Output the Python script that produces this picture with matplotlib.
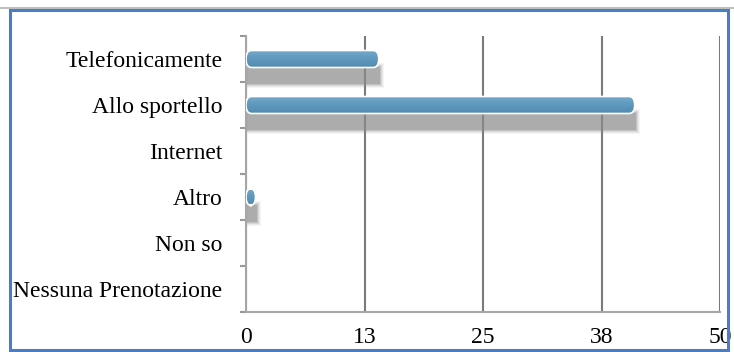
import numpy as np
import matplotlib.pyplot as plt
from matplotlib.colors import LinearSegmentedColormap
from matplotlib.patches import Rectangle, FancyBboxPatch

categorie = ['Telefonicamente', 'Allo sportello', 'Internet', 'Altro',
             'Non so', 'Nessuna Prenotazione']
risposte = [14, 41, 0, 1, 0, 0]
tick_pos = [0, 12.5, 25, 37.5, 50]
tick_lab = ['0', '13', '25', '38', '50']

plt.rcParams['font.family'] = ['Liberation Serif', 'DejaVu Serif']

fig = plt.figure(figsize=(7.34, 3.52), dpi=100)
ax = fig.add_axes([246 / 734, 1 - 312 / 352, 474 / 734, 276 / 352])

y = np.arange(len(categorie))
h = 0.37

# ombra sfumata sotto le barre
for yi, v in zip(y, risposte):
    if v <= 0:
        continue
    for k, a in enumerate([0.08, 0.12, 0.18, 0.28, 0.40]):
        grow = (4 - k) * 0.04
        ax.add_patch(Rectangle((0, yi + 0.17 - grow / 2), v + 0.15 + grow * 2.5, h + grow,
                               facecolor='#8c8c8c', edgecolor='none', alpha=a, zorder=2))

# barre con sfumatura verticale
cmap = LinearSegmentedColormap.from_list('azz', ['#74a9ca', '#5e98bd', '#5289b0'])
grad = np.linspace(0, 1, 64).reshape(-1, 1)
for yi, v in zip(y, risposte):
    if v <= 0:
        continue
    bar = FancyBboxPatch((0, yi - h / 2), v, h,
                         boxstyle='round,pad=0,rounding_size=0.6',
                         mutation_aspect=0.3,
                         facecolor='none', edgecolor='white', linewidth=1.2, zorder=4)
    ax.add_patch(bar)
    im = ax.imshow(grad, cmap=cmap, extent=(0, v, yi + h / 2, yi - h / 2),
                   aspect='auto', zorder=3)
    im.set_clip_path(bar)

ax.set_xlim(0, 50)
ax.set_ylim(len(categorie) - 0.5, -0.5)

ax.set_xticks(tick_pos)
ax.set_xticklabels(tick_lab, fontsize=17)
ax.set_yticks(y)
ax.set_yticklabels(categorie, fontsize=17)
ax.tick_params(axis='y', length=0, pad=17)
ax.tick_params(axis='x', length=0, pad=11)

# tacche tra le categorie
ax.set_yticks(np.arange(-0.5, len(categorie)), minor=True)
ax.tick_params(axis='y', which='minor', length=4, color='#999999', width=1.5)

ax.grid(axis='x', color='#7a7a7a', linewidth=1.5, zorder=1)
ax.set_axisbelow(True)
for s in ['top', 'right']:
    ax.spines[s].set_visible(False)
for s in ['left', 'bottom']:
    ax.spines[s].set_color('#a6a6a6')
    ax.spines[s].set_linewidth(1.5)

# cornice
fig.add_artist(Rectangle((0, 1 - 9 / 352), 1, 2 / 352, transform=fig.transFigure,
                         facecolor='#bfbfbf', edgecolor='none'))
fig.add_artist(Rectangle((10 / 734, 2 / 352), 718 / 734, 340 / 352,
                         transform=fig.transFigure, fill=False,
                         edgecolor='#4a7ec2', linewidth=2.2))

fig.savefig('out.png', dpi=100)
